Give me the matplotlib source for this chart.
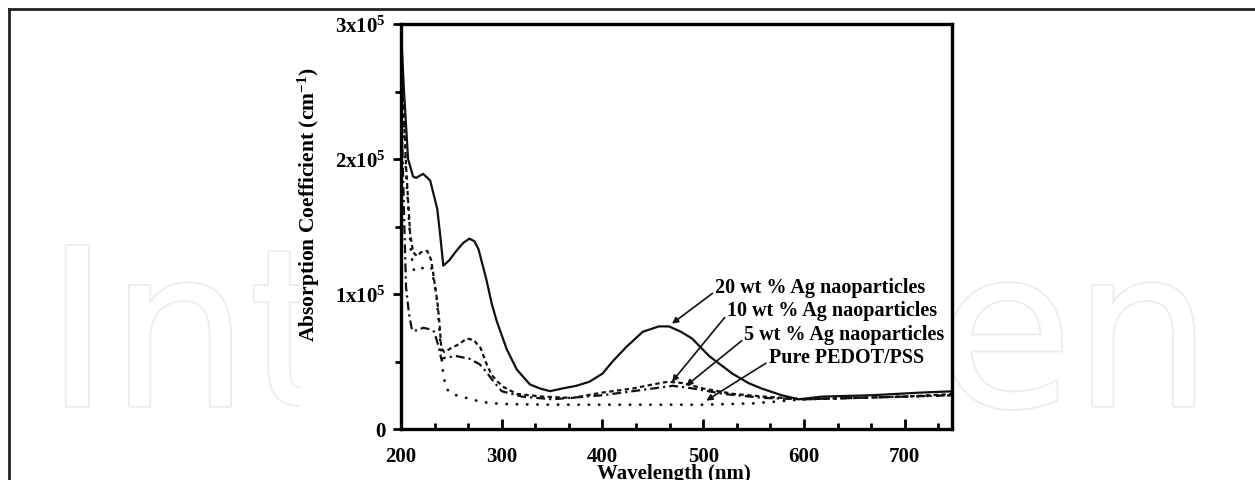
import matplotlib
matplotlib.use("Agg")
import matplotlib.pyplot as plt
import matplotlib.patheffects as pe
from matplotlib.lines import Line2D
from matplotlib.patches import Rectangle
from matplotlib.ticker import MultipleLocator, FixedLocator

plt.rcParams["font.family"] = ["Liberation Serif", "DejaVu Serif"]
plt.rcParams["font.weight"] = "bold"
plt.rcParams["mathtext.fontset"] = "custom"
plt.rcParams["mathtext.rm"] = "Liberation Serif:bold"
plt.rcParams["mathtext.bf"] = "Liberation Serif:bold"
plt.rcParams["mathtext.default"] = "bf"

# wavelength (nm) / absorption coefficient (cm^-1)
wl_20 = [200, 203, 207, 212, 215, 222, 229, 236, 239, 242, 248, 255, 262, 268, 273, 277,
         285, 290, 295, 305, 315, 328, 338, 348, 360, 374, 387, 400, 410, 424, 440, 456,
         466, 478, 489, 506, 529, 545, 558, 578, 595, 618, 667, 717, 750]
abs_20 = [2.95e5, 2.5e5, 2.0e5, 1.87e5, 1.86e5, 1.89e5, 1.84e5, 1.63e5, 1.43e5, 1.21e5,
          1.25e5, 1.32e5, 1.38e5, 1.41e5, 1.39e5, 1.33e5, 1.10e5, 0.93e5, 0.80e5, 0.59e5,
          0.44e5, 0.33e5, 0.30e5, 0.28e5, 0.30e5, 0.32e5, 0.35e5, 0.41e5, 0.50e5, 0.61e5,
          0.72e5, 0.76e5, 0.76e5, 0.72e5, 0.67e5, 0.54e5, 0.41e5, 0.34e5, 0.30e5, 0.25e5,
          0.22e5, 0.24e5, 0.25e5, 0.27e5, 0.28e5]

wl_10 = [200, 205, 209, 212, 216, 220, 226, 230, 233, 236, 238, 240, 243, 250, 258, 265,
         272, 279, 285, 290, 296, 302, 315, 340, 370, 400, 430, 450, 465, 480, 500, 530,
         560, 600, 650, 700, 750]
abs_10 = [2.8e5, 1.95e5, 1.45e5, 1.31e5, 1.28e5, 1.31e5, 1.32e5, 1.25e5, 1.10e5, 0.95e5,
          0.80e5, 0.60e5, 0.57e5, 0.60e5, 0.63e5, 0.67e5, 0.66e5, 0.60e5, 0.48e5, 0.40e5,
          0.35e5, 0.31e5, 0.26e5, 0.24e5, 0.23e5, 0.27e5, 0.30e5, 0.33e5, 0.35e5, 0.34e5,
          0.30e5, 0.26e5, 0.24e5, 0.22e5, 0.23e5, 0.24e5, 0.26e5]

wl_5 = [200, 203, 205, 208, 211, 216, 222, 228, 233, 237, 240, 245, 255, 268, 278, 285,
        291, 300, 320, 350, 400, 450, 470, 490, 520, 560, 600, 650, 700, 750]
abs_5 = [2.5e5, 1.6e5, 1.05e5, 0.85e5, 0.73e5, 0.73e5, 0.75e5, 0.74e5, 0.72e5, 0.62e5,
         0.52e5, 0.53e5, 0.54e5, 0.52e5, 0.48e5, 0.42e5, 0.36e5, 0.28e5, 0.24e5, 0.22e5,
         0.25e5, 0.30e5, 0.32e5, 0.30e5, 0.26e5, 0.23e5, 0.22e5, 0.23e5, 0.24e5, 0.25e5]

wl_pure = [200, 205, 210, 213, 220, 230, 235, 238, 240, 242, 245, 250, 260, 270, 280, 300,
           350, 450, 500, 550, 600, 650, 700, 750]
abs_pure = [2.7e5, 1.9e5, 1.3e5, 1.17e5, 1.19e5, 1.20e5, 1.0e5, 0.75e5, 0.55e5, 0.40e5,
            0.30e5, 0.26e5, 0.24e5, 0.22e5, 0.20e5, 0.185e5, 0.18e5, 0.18e5, 0.18e5,
            0.19e5, 0.22e5, 0.23e5, 0.24e5, 0.25e5]

labels = ["20 wt % Ag naoparticles", "10 wt % Ag naoparticles",
          "5 wt % Ag naoparticles", "Pure PEDOT/PSS"]
arrow_tips = [(469, 0.78e5), (469, 0.35e5), (483, 0.32e5), (503, 0.21e5)]
label_pos = [(512, 1.05e5), (524, 0.88e5), (541, 0.70e5), (565, 0.53e5)]

ytick_vals = [0, 1e5, 2e5, 3e5]
ytick_text = ["0", r"1x10$^{5}$", r"2x10$^{5}$", r"3x10$^{5}$"]

fig = plt.figure(figsize=(12.55, 4.81), dpi=100)

# watermark, partly hidden by the chart's white box
wm = dict(fontsize=158, family="DejaVu Sans", fontweight="normal", color="white",
          va="baseline", zorder=0,
          path_effects=[pe.withStroke(linewidth=2.5, foreground="#ebebeb")])
fig.text(45 / 1255, 1 - 407 / 481, "Intech", ha="left", **wm)
fig.text(1212 / 1255, 1 - 407 / 481, "Open", ha="right", **wm)
fig.add_artist(Rectangle((300 / 1255, 0), 652 / 1255, 1 - 14 / 481,
                         transform=fig.transFigure, facecolor="white",
                         edgecolor="none", zorder=1))

# page frame
fig.add_artist(Line2D([9 / 1255, 1], [1 - 10 / 481, 1 - 10 / 481],
                      transform=fig.transFigure, color="#222222", lw=2))
fig.add_artist(Line2D([9 / 1255, 9 / 1255], [0, 1 - 10 / 481],
                      transform=fig.transFigure, color="#222222", lw=2))

ax = fig.add_axes([401 / 1255, 51 / 481, 551 / 1255, 405 / 481], zorder=2)

ax.plot(wl_20, abs_20, color="#111111", lw=1.6, ls="-")
ax.plot(wl_10, abs_10, color="#111111", lw=1.6, ls=(0, (2, 1.5)))
ax.plot(wl_5, abs_5, color="#111111", lw=1.6, ls=(0, (4, 1.8, 1, 1.8)))
ax.plot(wl_pure, abs_pure, color="#111111", lw=2.0, ls=(0, (0.1, 3.6)),
        dash_capstyle="round")

for text, tip, pos in zip(labels, arrow_tips, label_pos):
    ax.annotate(text, xy=tip, xytext=pos, fontsize=14.5, fontweight="bold",
                ha="left", va="center",
                arrowprops=dict(arrowstyle="-|>", color="#111111", lw=1.2,
                                mutation_scale=9, shrinkA=0, shrinkB=0,
                                relpos=(0, 0.3)))

ax.set_xlim(200, 747)
ax.set_ylim(0, 3e5)
ax.xaxis.set_major_locator(MultipleLocator(100))
ax.xaxis.set_minor_locator(MultipleLocator(100 / 3))
ax.yaxis.set_major_locator(FixedLocator(ytick_vals))
ax.yaxis.set_minor_locator(MultipleLocator(0.5e5))
ax.set_yticklabels(ytick_text)

for side in ["left", "right", "top", "bottom"]:
    ax.spines[side].set_linewidth(2.4)
ax.tick_params(axis="x", which="both", direction="in", top=False, width=2,
               labelsize=15, pad=12)
ax.tick_params(axis="x", which="major", length=7)
ax.tick_params(axis="x", which="minor", length=4)
ax.tick_params(axis="y", which="both", direction="out", right=False, width=2,
               labelsize=15, pad=5)
ax.tick_params(axis="y", which="major", length=6)
ax.tick_params(axis="y", which="minor", length=4)
for lab in ax.get_xticklabels() + ax.get_yticklabels():
    lab.set_fontweight("bold")

ax.set_xlabel("Wavelength (nm)", fontsize=15, fontweight="bold")
ax.set_ylabel(r"Absorption Coefficient (cm$^{-1}$)", fontsize=15.5, fontweight="bold")
ax.xaxis.set_label_coords(0.495, -0.085)
ax.yaxis.set_label_coords(-0.143, 0.556)

fig.savefig("out.png", dpi=100)
